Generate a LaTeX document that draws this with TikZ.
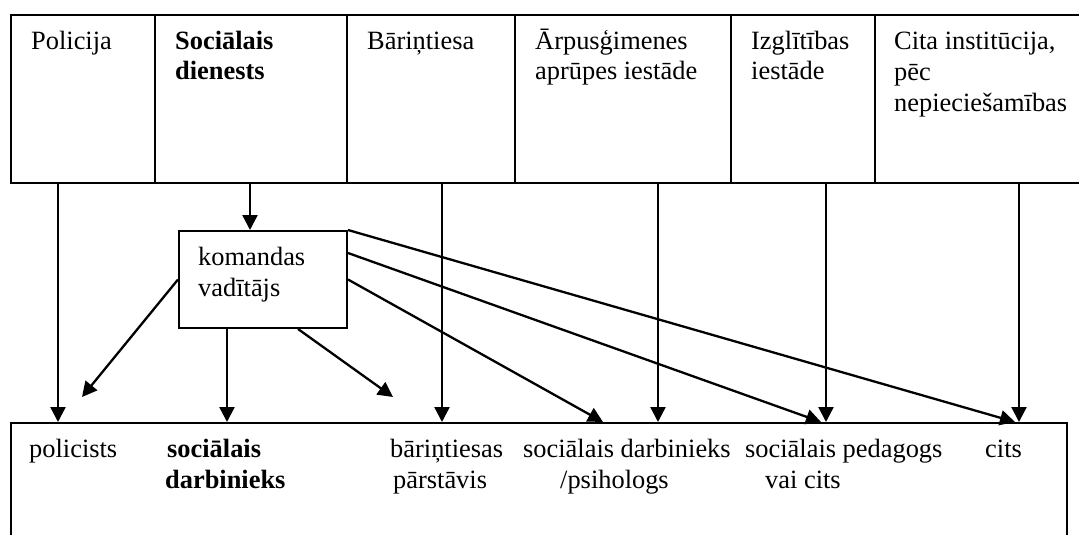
\documentclass[tikz,border=0pt]{standalone}
\usepackage{fontspec}
\setmainfont{Liberation Serif}
\usetikzlibrary{arrows.meta}
\begin{document}
\begin{tikzpicture}[x=1pt,y=-1pt,
  box/.style={draw, line width=2pt, inner sep=0pt, anchor=north west},
  lbl/.style={anchor=base west, inner sep=0pt, align=left, font=\fontsize{26.4}{31}\selectfont},
  bl/.style={lbl, font=\fontsize{26.4}{31}\selectfont\bfseries},
  arr/.style={line width=2.3pt, -{Triangle[length=15pt,width=15pt]}}
]
\useasboundingbox (0,0) rectangle (1079,535);
% top row cells
\node[box, minimum width=144pt, minimum height=168pt] (c1) at (10,14) {};
\node[box, minimum width=192pt, minimum height=168pt] (c2) at (154,14) {};
\node[box, minimum width=168pt, minimum height=168pt] (c3) at (346,14) {};
\node[box, minimum width=216pt, minimum height=168pt] (c4) at (514,14) {};
\node[box, minimum width=144pt, minimum height=168pt] (c5) at (730,14) {};
\node[box, minimum width=236pt, minimum height=168pt] (c6) at (874,14) {};
% middle box
\node[box, minimum width=168pt, minimum height=97pt] (kom) at (178,230) {};
% bottom box
\node[box, minimum width=1056pt, minimum height=160pt] (bot) at (10,422) {};

% top labels (anchor is the baseline of the last line)
\node[lbl] (t1) at (31,49) {Policija};
\node[bl] (t2) at (175,80) {Sociālais\\dienests};
\node[lbl] (t3) at (367,49) {Bāriņtiesa};
\node[lbl] (t4) at (535,80) {Ārpusģimenes\\aprūpes iestāde};
\node[lbl] (t5) at (751,80) {Izglītības\\iestāde};
\node[lbl] (t6) at (894,111) {Cita institūcija,\\pēc\\nepieciešamības};
% middle label
\node[lbl] (tk) at (198,296) {komandas\\vadītājs};
% bottom labels
\node[lbl] (b1) at (29,457) {policists};
\node[bl] (b2) at (167,488) {sociālais\\\hspace*{-2pt}darbinieks};
\node[lbl] (b3) at (390,488) {bāriņtiesas\\\hspace*{3pt}pārstāvis};
\node[lbl] (b4) at (523,488) {sociālais darbinieks\\\hspace*{37pt}/psihologs};
\node[lbl] (b5) at (745,488) {sociālais pedagogs\\\hspace*{20pt}vai cits};
\node[lbl] (b6) at (985,457) {cits};

% x positions of vertical connectors
\coordinate (x1) at (58,0);
\coordinate (x2) at (250,0);
\coordinate (x3) at (442,0);
\coordinate (x4) at (658,0);
\coordinate (x5) at (826,0);
\coordinate (x6) at (1019,0);
\coordinate (xk1) at (227,0);
\coordinate (xk2) at (298,0);
\coordinate (xe1) at (603,0);
\coordinate (xe2) at (821,0);
\coordinate (xe3) at (1015,0);
\coordinate (ye2) at (0,253);
% free ends
\coordinate (f1) at (82,397);
\coordinate (f2) at (393,397);

% vertical arrows from the top row
\draw[arr] (c1.south -| x1) -- (bot.north -| x1);
\draw[arr] (c2.south -| x2) -- (kom.north -| x2);
\draw[arr] (c3.south -| x3) -- (bot.north -| x3);
\draw[arr] (c4.south -| x4) -- (bot.north -| x4);
\draw[arr] (c5.south -| x5) -- (bot.north -| x5);
\draw[arr] (c6.south -| x6) -- (bot.north -| x6);
% arrows from komandas vaditajs
\draw[arr] (kom.west) -- (f1);
\draw[arr] (kom.south -| xk1) -- (bot.north -| xk1);
\draw[arr] (kom.south -| xk2) -- (f2);
\draw[arr] (kom.east) -- (bot.north -| xe1);
\draw[arr] (kom.east |- ye2) -- (bot.north -| xe2);
\draw[arr] (kom.north east) -- (bot.north -| xe3);
\end{tikzpicture}
\end{document}
